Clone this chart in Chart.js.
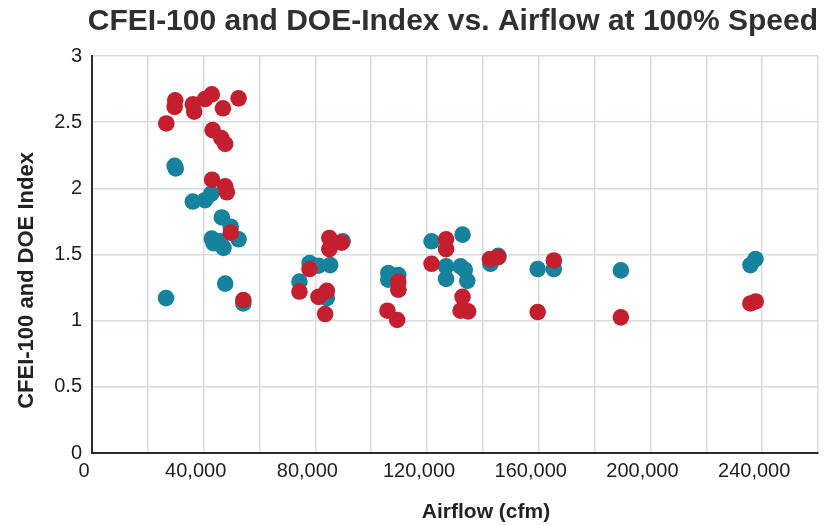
<!DOCTYPE html>
<html>
<head>
<meta charset="utf-8">
<script src="https://cdn.jsdelivr.net/npm/chart.js@4.4.1/dist/chart.umd.min.js"></script>
<style>
  html, body { margin: 0; padding: 0; background: #ffffff; }
  #wrap { width: 835px; height: 525px; position: relative; }
</style>
</head>
<body>
<div id="wrap"><canvas id="c" width="835" height="525"></canvas></div>
<script>
// ---- Data ----
const chartTitle = 'CFEI-100 and DOE-Index vs. Airflow at 100% Speed';
const xAxisTitle = 'Airflow (cfm)';
const yAxisTitle = 'CFEI-100 and DOE Index';

// Blue series
const cfeiAirflow = [26500, 29600, 30000, 36100, 40500, 42700, 42900, 43500, 45900, 46500,
  47100, 47700, 49700, 52500, 54200, 74300, 77900, 81100, 84100, 85300,
  89800, 106100, 106100, 109700, 109700, 121600, 126800, 126800, 132000, 132700,
  133500, 134400, 142700, 145500, 159600, 165400, 189400, 235800, 237600];
const cfeiValues = [1.17, 2.17, 2.15, 1.90, 1.91, 1.96, 1.62, 1.585, 1.60, 1.78,
  1.55, 1.28, 1.71, 1.615, 1.13, 1.295, 1.435, 1.415, 1.17, 1.42,
  1.60, 1.36, 1.31, 1.345, 1.235, 1.60, 1.41, 1.315, 1.41, 1.65,
  1.385, 1.30, 1.43, 1.49, 1.39, 1.39, 1.38, 1.42, 1.465];

// Red series
const doeAirflow = [26600, 29600, 29800, 36100, 36600, 40500, 42900, 43000, 43200, 46300,
  46900, 47700, 47700, 48300, 49700, 52500, 54200, 74300, 77900, 81100,
  83500, 84100, 85000, 85000, 89400, 105800, 109300, 109700, 109700, 121600,
  126800, 126800, 132000, 132700, 134700, 142500, 145500, 159600, 165400, 189400,
  235800, 237700];
const doeValues = [2.49, 2.615, 2.665, 2.635, 2.58, 2.675, 2.71, 2.065, 2.44, 2.38,
  2.605, 2.335, 2.015, 1.97, 1.665, 2.68, 1.155, 1.22, 1.39, 1.18,
  1.05, 1.225, 1.625, 1.54, 1.59, 1.075, 1.005, 1.295, 1.235, 1.43,
  1.615, 1.54, 1.075, 1.18, 1.07, 1.465, 1.48, 1.065, 1.455, 1.025,
  1.13, 1.145];

// Axis ranges / ticks
const xMin = 0, xMax = 260000, xStep = 20000, xLabelEvery = 40000;
const yMin = 0, yMax = 3, yStep = 0.5;

const toPoints = (xs, ys) => xs.map((x, i) => ({ x: x, y: ys[i] }));

const FONT = '"Liberation Sans", Arial, Helvetica, sans-serif';

const axisTitles = {
  id: 'axisTitles',
  afterDraw(chart) {
    const { ctx, chartArea } = chart;
    ctx.save();
    ctx.fillStyle = '#222222';
    ctx.textAlign = 'center';
    ctx.textBaseline = 'middle';
    ctx.font = 'bold 21px ' + FONT;
    const cx = (chartArea.left + chartArea.right) / 2 + 31;
    ctx.fillText(xAxisTitle, cx, 512);
    ctx.font = 'bold 22px ' + FONT;
    const cy = (chartArea.top + chartArea.bottom) / 2 + 26;
    ctx.translate(27, cy);
    ctx.rotate(-Math.PI / 2);
    ctx.fillText(yAxisTitle, 0, 0);
    ctx.restore();
  }
};

new Chart(document.getElementById('c'), {
  type: 'scatter',
  data: {
    datasets: [
      {
        label: 'DOE Index',
        data: toPoints(doeAirflow, doeValues),
        backgroundColor: '#c41f2f',
        borderWidth: 0,
        pointRadius: 8.3,
        pointHoverRadius: 8.3
      },
      {
        label: 'CFEI-100',
        data: toPoints(cfeiAirflow, cfeiValues),
        backgroundColor: '#16829e',
        borderWidth: 0,
        pointRadius: 8.3,
        pointHoverRadius: 8.3
      }
    ]
  },
  options: {
    responsive: false,
    animation: false,
    events: [],
    layout: { padding: { left: 0, right: 17, top: 0, bottom: 0 } },
    plugins: {
      legend: { display: false },
      tooltip: { enabled: false },
      title: {
        display: true,
        text: chartTitle,
        align: 'end',
        color: '#303030',
        font: { family: FONT, size: 30, weight: 'bold' },
        padding: { top: 4, bottom: 16 }
      }
    },
    scales: {
      x: {
        type: 'linear',
        min: xMin,
        max: xMax,
        afterFit(scale) { scale.height = 72; },
        ticks: {
          stepSize: xStep,
          autoSkip: false,
          maxRotation: 0,
          minRotation: 0,
          padding: 6,
          labelOffset: -8,
          color: '#1e1e1e',
          font: { family: FONT, size: 20 },
          callback: (v) => (v % xLabelEvery === 0 && v < xMax) ? v.toLocaleString('en-US') : ''
        },
        grid: { color: '#d7dce3', lineWidth: 1.5, drawTicks: false },
        border: { display: true, color: '#2b2b2b', width: 2 }
      },
      y: {
        type: 'linear',
        min: yMin,
        max: yMax,
        afterFit(scale) { scale.width = 92; },
        ticks: {
          stepSize: yStep,
          padding: 10,
          color: '#1e1e1e',
          font: { family: FONT, size: 20 },
          callback: (v) => String(v)
        },
        grid: { color: '#d7dce3', lineWidth: 1.5, drawTicks: false },
        border: { display: true, color: '#2b2b2b', width: 2 }
      }
    }
  },
  plugins: [axisTitles]
});
</script>
</body>
</html>
